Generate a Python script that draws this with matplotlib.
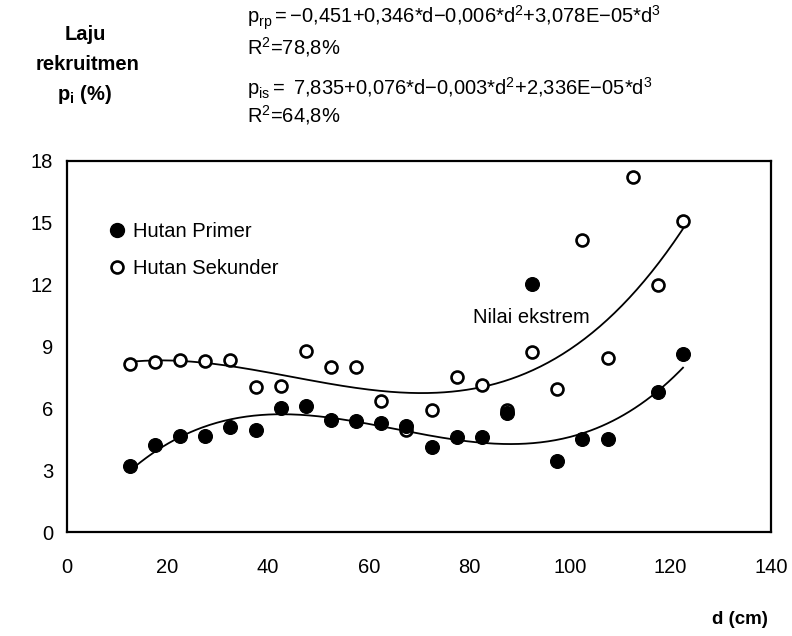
import numpy as np
import matplotlib
matplotlib.use("Agg")
import matplotlib.pyplot as plt
from matplotlib.lines import Line2D

plt.rcParams['font.family'] = ['Liberation Sans', 'DejaVu Sans']
plt.rcParams['mathtext.fontset'] = 'custom'
plt.rcParams['mathtext.rm'] = 'Liberation Sans'
plt.rcParams['mathtext.it'] = 'Liberation Sans:italic'
plt.rcParams['mathtext.bf'] = 'Liberation Sans:bold'

# ---- data ----
d_primer = [12.5, 17.5, 22.5, 27.5, 32.5, 37.5, 42.5, 47.5, 52.5, 57.5, 62.5,
            67.5, 72.5, 77.5, 82.5, 87.5, 92.5, 97.5, 102.5, 107.5, 117.5, 122.5]
p_primer = [3.19, 4.20, 4.66, 4.66, 5.08, 4.96, 6.04, 6.09, 5.45, 5.38, 5.27,
            5.15, 4.12, 4.63, 4.62, 5.77, 12.01, 3.43, 4.49, 4.49, 6.77, 8.63]
primer_outlier_d = [92.5]

d_sekunder = [12.5, 17.5, 22.5, 27.5, 32.5, 37.5, 42.5, 47.5, 52.5, 57.5, 62.5,
              67.5, 72.5, 77.5, 82.5, 87.5, 92.5, 97.5, 102.5, 107.5, 112.5,
              117.5, 122.5]
p_sekunder = [8.17, 8.25, 8.34, 8.28, 8.35, 7.02, 7.06, 8.78, 8.01, 8.01, 6.35,
              4.94, 5.92, 7.54, 7.15, 5.90, 8.73, 6.95, 14.17, 8.43, 17.22,
              11.96, 15.08]
sekunder_outlier_d = [112.5]

x_ticks = [0, 20, 40, 60, 80, 100, 120, 140]
y_ticks = [0, 3, 6, 9, 12, 15, 18]

eq_primer = r'$\mathregular{p_{rp}{=}{-}0{,}451{+}0{,}346{*}d{-}0{,}006{*}d^2{+}3{,}078E{-}05{*}d^3}$'
r2_primer = r'R$^\mathregular{2}$=78,8%'
eq_sekunder = r'$\mathregular{p_{is}{=}\ 7{,}835{+}0{,}076{*}d{-}0{,}003{*}d^2{+}2{,}336E{-}05{*}d^3}$'
r2_sekunder = r'R$^\mathregular{2}$=64,8%'

W, H = 792, 636
fig = plt.figure(figsize=(W / 100, H / 100), dpi=100)
ax = fig.add_axes([67 / W, 1 - 532 / H, 704 / W, 371 / H])

def cubic_fit(xs, ys, excl):
    xs = np.asarray(xs, float); ys = np.asarray(ys, float)
    m = ~np.isin(xs, excl)
    c = np.polyfit(xs[m], ys[m], 3)
    xx = np.linspace(xs.min(), xs.max(), 300)
    return xx, np.polyval(c, xx)

xx, yy = cubic_fit(d_primer, p_primer, primer_outlier_d)
ax.plot(xx, yy, color='black', lw=1.3, zorder=2)
xx, yy = cubic_fit(d_sekunder, p_sekunder, sekunder_outlier_d)
ax.plot(xx, yy, color='black', lw=1.3, zorder=2)

ax.plot(d_sekunder, p_sekunder, linestyle='none', marker='o', ms=8.6,
        mfc='white', mec='black', mew=1.9, zorder=3)
ax.plot(d_primer, p_primer, linestyle='none', marker='o', ms=10,
        mfc='black', mec='black', mew=0.8, zorder=4)

ax.set_xlim(0, 140)
ax.set_ylim(0, 18)
ax.set_xticks(x_ticks)
ax.set_yticks(y_ticks)
ax.tick_params(length=0, labelsize=14.5)
ax.tick_params(axis='x', pad=19)
ax.tick_params(axis='y', pad=10)
for s in ax.spines.values():
    s.set_linewidth(1.6)

handles = [Line2D([], [], linestyle='none', marker='o', ms=10, mfc='black', mec='black'),
           Line2D([], [], linestyle='none', marker='o', ms=8.6, mfc='white', mec='black', mew=1.9)]
ax.legend(handles, ['Hutan Primer', 'Hutan Sekunder'], loc='upper left',
          bbox_to_anchor=(0.058, 0.835), frameon=False, fontsize=14.5,
          handlelength=0.9, handletextpad=0.35, labelspacing=0.88,
          borderpad=0, borderaxespad=0)

ax.text(92.4, 10.4, 'Nilai ekstrem', fontsize=14.5, ha='center', va='center')

def ftext(x, y, s, **kw):
    fig.text(x / W, 1 - y / H, s, **kw)

ftext(247, 18, eq_primer, fontsize=14.5, ha='left', va='center')
ftext(247, 47, r2_primer, fontsize=14.5, ha='left', va='center')
ftext(247, 88, eq_sekunder, fontsize=14.5, ha='left', va='center')
ftext(247, 115, r2_sekunder, fontsize=14.5, ha='left', va='center')

ftext(85, 34, 'Laju', fontsize=14.5, fontweight='bold', ha='center', va='center')
ftext(88, 65, 'rekruitmen', fontsize=14.5, fontweight='bold', ha='center', va='center')
ftext(84, 95, r'$\mathregular{p_i}$ (%)', fontsize=14.5, fontweight='bold', ha='center', va='center')

ftext(740, 620, 'd (cm)', fontsize=13.5, fontweight='bold', ha='center', va='center')

fig.savefig('out.png', dpi=100)
